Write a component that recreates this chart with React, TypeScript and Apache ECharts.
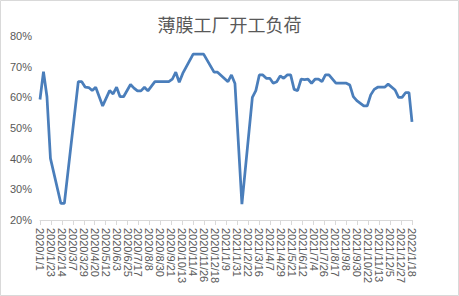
import React, { useEffect, useRef } from "react";
import * as echarts from "echarts";

const titleText = "薄膜工厂开工负荷";
const axisStart = "2020/1/1";
const axisEnd = "2022/1/18";
const yTicks = [20, 30, 40, 50, 60, 70, 80];

const dates = [
  "2020/1/1", "2020/1/8", "2020/1/15", "2020/1/22", "2020/2/12", "2020/2/19",
  "2020/3/18", "2020/3/25", "2020/4/1", "2020/4/8", "2020/4/15", "2020/4/22",
  "2020/5/6", "2020/5/20", "2020/5/27", "2020/6/3", "2020/6/10", "2020/6/17",
  "2020/7/1", "2020/7/8", "2020/7/15", "2020/7/22", "2020/7/29", "2020/8/5",
  "2020/8/19", "2020/8/26", "2020/9/2", "2020/9/9", "2020/9/16", "2020/9/23",
  "2020/9/30", "2020/10/7", "2020/10/14", "2020/11/4", "2020/11/11", "2020/11/18",
  "2020/11/25", "2020/12/16", "2020/12/23", "2021/1/13", "2021/1/20", "2021/1/27",
  "2021/2/10", "2021/3/3", "2021/3/10", "2021/3/17", "2021/3/24", "2021/3/31",
  "2021/4/7", "2021/4/14", "2021/4/21", "2021/4/28", "2021/5/5", "2021/5/12",
  "2021/5/19", "2021/5/26", "2021/6/2", "2021/6/9", "2021/6/16", "2021/6/23",
  "2021/6/30", "2021/7/7", "2021/7/14", "2021/7/21", "2021/7/28", "2021/8/4",
  "2021/8/18", "2021/8/25", "2021/9/1", "2021/9/8", "2021/9/15", "2021/9/22",
  "2021/9/29", "2021/10/13", "2021/10/20", "2021/10/27", "2021/11/3", "2021/11/10",
  "2021/11/17", "2021/11/24", "2021/12/1", "2021/12/15", "2021/12/22", "2021/12/29",
  "2022/1/5", "2022/1/12", "2022/1/18",
];

const loads = [
  59.3, 68.4, 60.2, 40.1, 25.4, 25.4,
  65.1, 65.1, 63.3, 63.2, 62.2, 63.3,
  57.2, 62.2, 61.1, 63.3, 60.2, 60.2,
  64.2, 63.0, 62.1, 62.1, 63.3, 62.1,
  65.1, 65.1, 65.1, 65.1, 65.1, 65.9,
  68.2, 64.9, 67.8, 74.1, 74.1, 74.1,
  74.1, 68.2, 68.2, 65.1, 67.3, 64.5,
  25.2, 60.0, 62.2, 67.3, 67.3, 66.2,
  66.2, 64.6, 65.1, 67.0, 66.2, 67.3,
  67.3, 62.6, 62.2, 65.9, 65.8, 65.9,
  64.6, 65.9, 65.9, 65.1, 67.3, 67.3,
  64.6, 64.6, 64.6, 64.6, 64.0, 60.2,
  58.9, 57.2, 57.2, 60.8, 62.6, 63.3,
  63.3, 63.3, 64.3, 62.4, 60.0, 60.0,
  61.5, 61.5, 52.0,
];

function fmt(d: Date) {
  return `${d.getUTCFullYear()}/${d.getUTCMonth() + 1}/${d.getUTCDate()}`;
}
function parse(s: string) {
  const [y, m, d] = s.split("/").map(Number);
  return new Date(Date.UTC(y, m - 1, d));
}

export default function App() {
  const ref = useRef<HTMLDivElement>(null);
  useEffect(() => {
    if (!ref.current) return;
    const chart = echarts.init(ref.current, undefined, { renderer: "svg" });

    // daily date categories (Excel-like date axis)
    const cats: string[] = [];
    const start = parse(axisStart).getTime();
    const end = parse(axisEnd).getTime();
    for (let t = start; t <= end; t += 86400000) cats.push(fmt(new Date(t)));
    const idx: Record<string, number> = {};
    cats.forEach((c, i) => (idx[c] = i));
    const seriesData: (number | null)[] = cats.map(() => null);
    dates.forEach((d, i) => {
      const k = idx[d];
      if (k !== undefined) seriesData[k] = loads[i];
    });

    const axisFont = "'Liberation Sans', Arial, sans-serif";
    chart.setOption({
      animation: false,
      backgroundColor: "#ffffff",
      title: {
        text: titleText,
        left: "center",
        top: 10,
        textStyle: {
          fontSize: 18,
          fontWeight: "normal",
          color: "#595959",
          fontFamily: "'Noto Sans CJK SC', sans-serif",
        },
      },
      graphic: [
        {
          type: "rect",
          shape: { x: 0.5, y: 0.5, width: 458, height: 295 },
          style: { fill: "none", stroke: "#d9d9d9", lineWidth: 1 },
          silent: true,
        },
      ],
      grid: { left: 40, right: 47, top: 36, bottom: 76, containLabel: false },
      xAxis: {
        type: "category",
        data: cats,
        boundaryGap: false,
        axisLine: { lineStyle: { color: "#d9d9d9", width: 1 } },
        axisTick: {
          show: true,
          interval: 21,
          length: 5,
          lineStyle: { color: "#d9d9d9" },
        },
        axisLabel: {
          interval: 21,
          rotate: -90,
          margin: 8,
          fontSize: 11,
          color: "#595959",
          fontFamily: axisFont,
        },
        splitLine: { show: false },
      },
      yAxis: {
        type: "value",
        min: yTicks[0],
        max: yTicks[yTicks.length - 1],
        interval: 10,
        axisLine: { show: false },
        axisTick: { show: false },
        splitLine: { show: false },
        axisLabel: {
          formatter: "{value}%",
          fontSize: 11,
          color: "#595959",
          margin: 8,
          fontFamily: axisFont,
        },
      },
      series: [
        {
          type: "line",
          data: seriesData,
          connectNulls: true,
          showSymbol: false,
          symbol: "none",
          lineStyle: { color: "#4a7ebb", width: 2.75 },
          itemStyle: { color: "#4a7ebb" },
        },
      ],
    });
    return () => chart.dispose();
  }, []);

  return (
    <div
      ref={ref}
      style={{ position: "fixed", left: 0, top: 0, width: 459, height: 296 }}
    />
  );
}
